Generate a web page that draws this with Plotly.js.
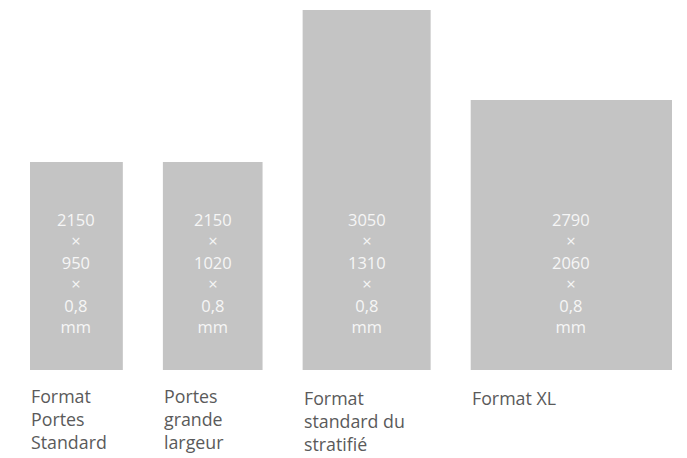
<!DOCTYPE html>
<html>
<head>
<meta charset="utf-8">
<script src="https://cdn.plot.ly/plotly-3.0.1.min.js"></script>
<style>html,body{margin:0;padding:0;background:#fff;}#chart{width:687px;height:458px;}</style>
</head>
<body>
<div id="chart"></div>
<script>
// Data
const categories = ["Format<br>Portes<br>Standard", "Portes<br>grande<br>largeur", "Format<br>standard du<br>stratifié", "Format XL"];
const lengths = [2150, 2150, 3050, 2790];      // mm (as labelled)
const widths = [950, 1020, 1310, 2060];        // mm (bar widths)
const thickness = ["0,8", "0,8", "0,8", "0,8"];
const unit = "mm";
const drawnHeights = [2150, 2150, 3720, 2790]; // bar heights as drawn in the picture
const gap = 410;                               // spacing between panels, in mm

// Build bar positions from widths
const centers = [], lefts = [];
let cursor = 0;
widths.forEach(w => { lefts.push(cursor); centers.push(cursor + w / 2); cursor += w + gap; });
const xMax = cursor - gap;

const trace = {
  type: "bar",
  x: centers,
  y: drawnHeights,
  width: widths,
  marker: { color: "#c4c4c4", line: { width: 0 } },
  hoverinfo: "none"
};

const annotations = [];
const FONT = "'Open Sans', 'Noto Sans', sans-serif";
// bar inner texts (one block per bar)
centers.forEach((c, i) => {
  const lines = [String(lengths[i]), "×", String(widths[i]), "×", thickness[i], unit];
  annotations.push({
    xref: "x", yref: "y", x: c, y: 0, text: lines.join("<br>"), showarrow: false,
    xanchor: "center", yanchor: "middle", yshift: 97, align: "center",
    font: { family: FONT, size: 16.5, color: "#f6f6f6" }
  });
});
// category labels under bars
const labelShift = [0, 0, 2, 2];
categories.forEach((cat, i) => {
  annotations.push({
    xref: "x", yref: "paper", x: lefts[i], y: 0, text: cat, showarrow: false,
    xanchor: "left", yanchor: "top", xshift: -1,
    yshift: -(12 + labelShift[i]),
    align: "left",
    font: { family: FONT, size: 17.8, color: "#5a5a5a" }
  });
});

const layout = {
  width: 687, height: 458,
  margin: { l: 30, r: 15, t: 10, b: 88, pad: 0 },
  paper_bgcolor: "#ffffff", plot_bgcolor: "#ffffff",
  showlegend: false,
  xaxis: { range: [0, xMax], visible: false, fixedrange: true },
  yaxis: { range: [0, Math.max(...drawnHeights)], visible: false, fixedrange: true },
  annotations: annotations
};

Plotly.newPlot("chart", [trace], layout, { displayModeBar: false, staticPlot: true });
</script>
</body>
</html>
